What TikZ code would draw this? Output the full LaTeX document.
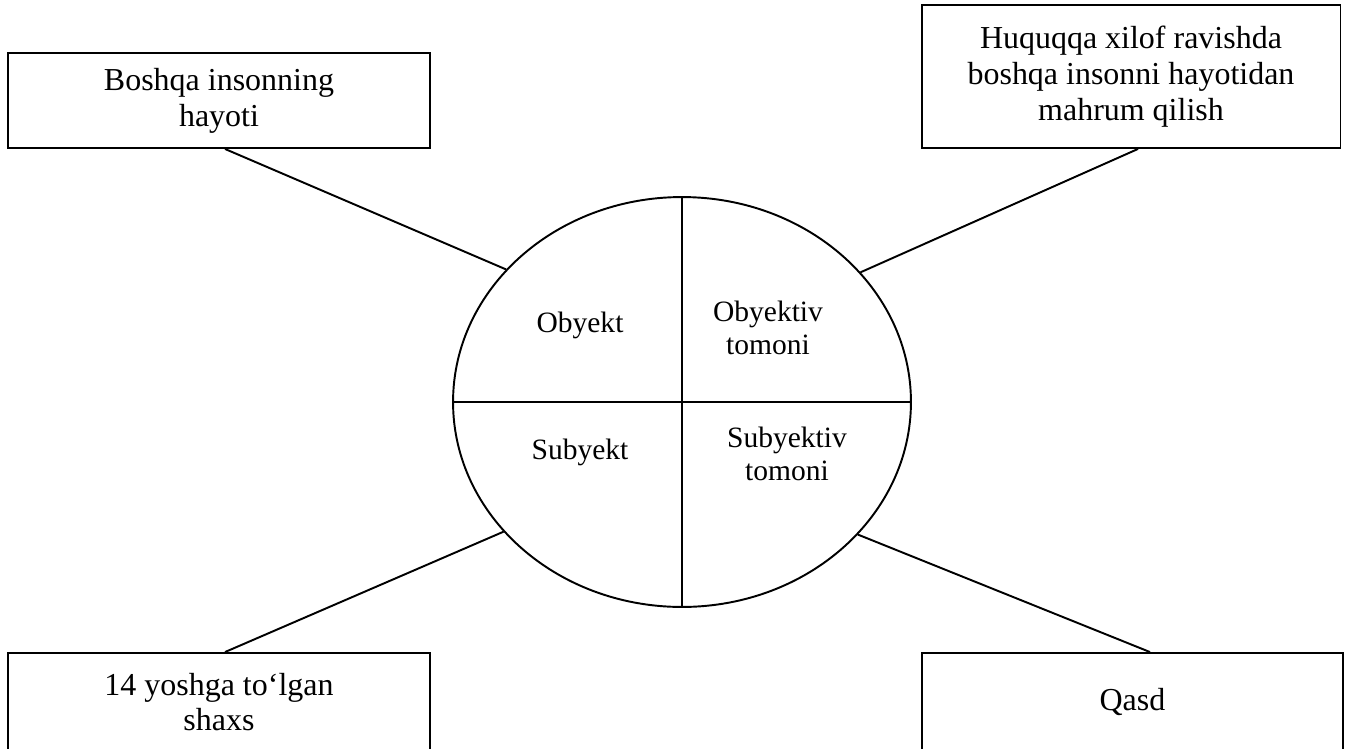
\documentclass[tikz,border=0pt]{standalone}
\usepackage{fontspec}
\setmainfont{Liberation Serif}
\usetikzlibrary{shapes.geometric}
\tikzset{
  box/.style={draw, rectangle, line width=1.1pt, align=center, minimum width=8.44cm,
    inner sep=0pt, font=\fontsize{18.2}{20.4}\selectfont},
  part/.style={align=center, font=\fontsize{16.8}{18.8}\selectfont},
  link/.style={line width=1.1pt}
}
\begin{document}
\begin{tikzpicture}[x=0.02cm,y=-0.02cm]
  \useasboundingbox (0,0) rectangle (1346,748);
  \node[draw, ellipse, line width=1.1pt, minimum width=9.16cm, minimum height=8.2cm, inner sep=0pt] (crime) at (682,402) {};
  \draw[link] (crime.north) -- (crime.south)
    (crime.west) -- (crime.east);
  \node[part] (obj) at (580,325) {Obyekt};
  \node[part] (objside) at (768,328) {Obyektiv\\tomoni};
  \node[part] (subj) at (580,452) {Subyekt};
  \node[part] (subjside) at (787,454) {Subyektiv\\tomoni};
  \node[box, minimum height=1.9cm] (life) at (219,100.5) {Boshqa insonning\\hayoti};
  \node[box, minimum width=8.38cm, minimum height=2.86cm] (act) at (1131,76.5) {Huquqqa xilof ravishda\\boshqa insonni hayotidan\\mahrum qilish};
  \node[box, minimum height=1.96cm] (person) at (219,702) {14 yoshga to‘lgan\\shaxs};
  \node[box, minimum width=8.42cm, minimum height=1.96cm] (intent) at (1132.5,702) {Qasd};
  \draw[link] ([xshift=0.12cm]life.south) -- (crime.143.7)
    ([xshift=0.14cm]act.south) -- (crime.36.3)
    ([xshift=0.12cm]person.north) -- (crime.216.4)
    ([xshift=0.35cm]intent.north) -- (crime.323.7);
\end{tikzpicture}
\end{document}
